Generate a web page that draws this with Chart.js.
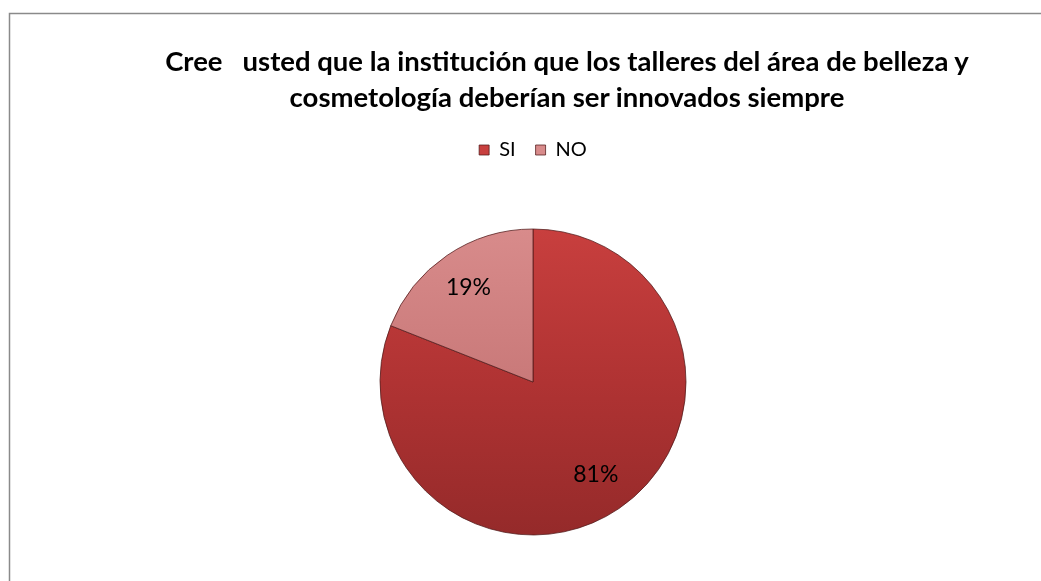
<!DOCTYPE html>
<html>
<head>
<meta charset="utf-8">
<script src="https://cdn.jsdelivr.net/npm/chart.js@4"></script>
<style>
  html, body { margin: 0; padding: 0; background: #fff; overflow: hidden; }
  #wrap { position: relative; width: 1041px; height: 581px; overflow: hidden; }
  #title {
    position: absolute; left: 117px; width: 900px; top: 43px;
    text-align: center; font-family: Lato, "Open Sans", sans-serif; font-weight: bold;
    font-size: 27.5px; line-height: 36px; color: #000; white-space: pre;
  }
  canvas { position: absolute; left: 0; top: 0; }
</style>
</head>
<body>
<div id="wrap">
  <canvas id="c" width="1041" height="594"></canvas>
  <div id="title">Cree   usted que la institución que los talleres del área de belleza y
cosmetología deberían ser innovados siempre</div>
</div>
<script>
const categories = ["SI", "NO"];
const values = [81, 19];
const labelsText = ["81%", "19%"];

const palette = [
  ["#c83f3e", "#b03333", "#952a2a"],
  ["#d88b8b", "#c97979", "#b86767"]
];

function sliceFill(ctx) {
  const chart = ctx.chart;
  const i = ctx.dataIndex;
  const p = palette[i] || palette[0];
  const area = chart.chartArea;
  if (!area) return p[1];
  const cy = (area.top + area.bottom) / 2;
  const r = 153;
  const g = chart.ctx.createLinearGradient(0, cy - r, 0, cy + r);
  g.addColorStop(0, p[0]);
  g.addColorStop(0.5, p[1]);
  g.addColorStop(1, p[2]);
  return g;
}

const frame = {
  id: 'frame',
  beforeDraw(chart) {
    const c = chart.ctx;
    c.save();
    c.fillStyle = '#fff';
    c.fillRect(0, 0, chart.width, chart.height);
    c.strokeStyle = '#8a8a8a';
    c.lineWidth = 1.5;
    c.beginPath();
    c.moveTo(9.5, chart.height + 2);
    c.lineTo(9.5, 13.5);
    c.lineTo(chart.width + 2, 13.5);
    c.stroke();
    c.restore();
  }
};

const sliceLabels = {
  id: 'sliceLabels',
  afterDatasetsDraw(chart) {
    const meta = chart.getDatasetMeta(0);
    const c = chart.ctx;
    c.save();
    c.fillStyle = '#000';
    c.font = '23px Lato, "Open Sans", sans-serif';
    c.textAlign = 'center';
    c.textBaseline = 'middle';
    meta.data.forEach((arc, i) => {
      const {x, y, startAngle, endAngle, outerRadius} = arc.getProps(['x','y','startAngle','endAngle','outerRadius'], true);
      const mid = (startAngle + endAngle) / 2;
      const f = i === 0 ? 0.73 : 0.75;
      c.fillText(labelsText[i], x + Math.cos(mid) * outerRadius * f, y + Math.sin(mid) * outerRadius * f);
    });
    c.restore();
  }
};

new Chart(document.getElementById('c'), {
  type: 'pie',
  data: {
    labels: categories,
    datasets: [{
      data: values,
      backgroundColor: sliceFill,
      borderColor: 'rgba(80,25,25,0.75)',
      borderWidth: 1,
      radius: 153
    }]
  },
  options: {
    responsive: false,
    animation: false,
    layout: { padding: { top: 120, bottom: 0, left: 25, right: 0 } },
    plugins: {
      title: { display: false },
      tooltip: { enabled: false },
      legend: {
        position: 'top',
        labels: {
          color: '#000',
          font: { family: 'Lato, "Open Sans", sans-serif', size: 20 },
          boxWidth: 10,
          boxHeight: 10,
          padding: 20
        }
      }
    }
  },
  plugins: [frame, sliceLabels]
});
</script>
</body>
</html>
